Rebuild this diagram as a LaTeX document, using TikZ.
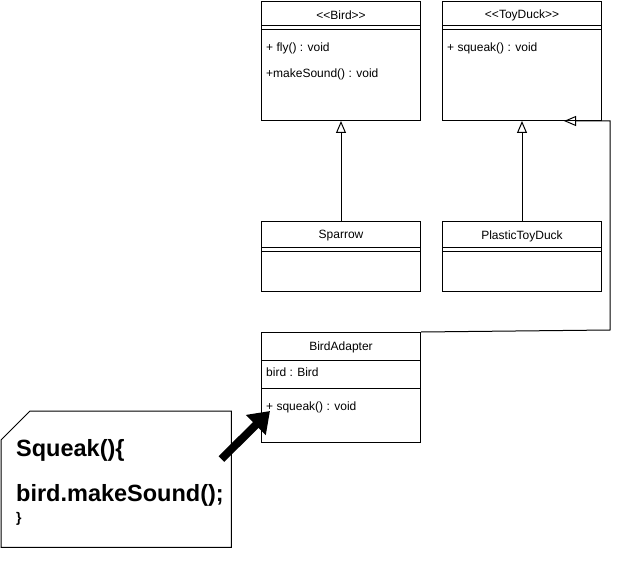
\documentclass[tikz,border=0pt]{standalone}
\usepackage{fontspec}
\setmainfont{Liberation Sans}
\usetikzlibrary{positioning, arrows.meta}

\begin{document}
\begin{tikzpicture}[x=1pt,y=-1pt,node distance=21pt,font=\fontsize{12}{14}\selectfont]
  \tikzset{
    classbox/.style={draw, line width=1pt, minimum width=159pt, inner sep=0pt},
    member/.style={anchor=west, inner sep=0pt},
    title/.style={inner sep=0pt},
    inherit/.style={line width=1pt, -{Triangle[open, length=12pt, width=10pt]}},
    bigarrow/.style={line width=8pt, -{Triangle[length=20pt, width=27pt]}}
  }
  \useasboundingbox (0,0) rectangle (623,585);

  \node[classbox, minimum height=119pt, anchor=north west] (bird) at (261,1) {};
  \node[classbox, minimum height=119pt] (toyduck) [right=of bird] {};
  \node[classbox, minimum height=70pt] (sparrow) [below=100pt of bird] {};
  \node[classbox, minimum height=70pt] (plastic) [below=100pt of toyduck] {};
  \node[classbox, minimum height=110pt] (adapter) [below=40pt of sparrow] {};

  % class names
  \node[title] (birdname)    at ([yshift=-14pt]bird.north)    {<\kern0pt<Bird>\kern0pt>};
  \node[title] (toyduckname) at ([yshift=-14pt]toyduck.north) {<\kern0pt<ToyDuck>\kern0pt>};
  \node[title] (sparrowname) at ([yshift=-15pt]sparrow.north) {Sparrow};
  \node[title] (plasticname) at ([yshift=-15pt]plastic.north) {PlasticToyDuck};
  \node[title] (adaptername) at ([yshift=-15pt]adapter.north) {BirdAdapter};

  % separators
  \foreach \n/\a/\b in {bird/25/29, toyduck/25/29, sparrow/26/30, plastic/26/30}{
    \draw[line width=1pt] ([yshift=-\a pt]\n.north west) -- ([yshift=-\a pt]\n.north east);
    \draw[line width=1pt] ([yshift=-\b pt]\n.north west) -- ([yshift=-\b pt]\n.north east);
  }
  \draw[line width=1pt] ([yshift=-28pt]adapter.north west) -- ([yshift=-28pt]adapter.north east);
  \draw[line width=1pt] ([yshift=-56pt]adapter.north west) -- ([yshift=-56pt]adapter.north east);

  % members
  \node[member] (fly)     at ([xshift=5pt,yshift=-47.5pt]bird.north west)    {+ fly() : void};
  \node[member] (make)    at ([xshift=5pt,yshift=-73.5pt]bird.north west)    {+makeSound() : void};
  \node[member] (squeak)  at ([xshift=5pt,yshift=-47.5pt]toyduck.north west) {+ squeak() : void};
  \node[member] (birdatt) at ([xshift=5pt,yshift=-40pt]adapter.north west)   {bird : Bird};
  \node[member] (asqueak) at ([xshift=5pt,yshift=-75pt]adapter.north west)   {+ squeak() : void};

  % relations
  \draw[inherit] (sparrow) -- (bird);
  \draw[inherit] (plastic) -- (toyduck);
  \coordinate (bend) at (610,330);
  \draw[inherit] (adapter.north east) -- (bend) |- ([xshift=-38pt]toyduck.south east);

  % note
  \node[minimum width=230pt, minimum height=136pt, inner sep=0pt, anchor=north west] (note) at (1,411) {};
  \draw[line width=1pt] ([xshift=29pt]note.north west) -- (note.north east) -- (note.south east)
    -- (note.south west) -- ([yshift=-29pt]note.north west) -- cycle;
  \node[member, font=\bfseries\fontsize{23.5}{26}\selectfont] (code1) at ([xshift=15pt,yshift=-39pt]note.north west) {Squeak()\{};
  \node[member, font=\bfseries\fontsize{23.5}{26}\selectfont] (code2) at ([xshift=15pt,yshift=-84pt]note.north west) {bird.makeSound();};
  \node[member, font=\bfseries\fontsize{14}{16}\selectfont] (code3) at ([xshift=15pt,yshift=-108pt]note.north west) {\}};

  \draw[bigarrow] ([xshift=-10pt,yshift=-48pt]note.north east) -- ([xshift=9pt,yshift=-79pt]adapter.north west);
\end{tikzpicture}
\end{document}
